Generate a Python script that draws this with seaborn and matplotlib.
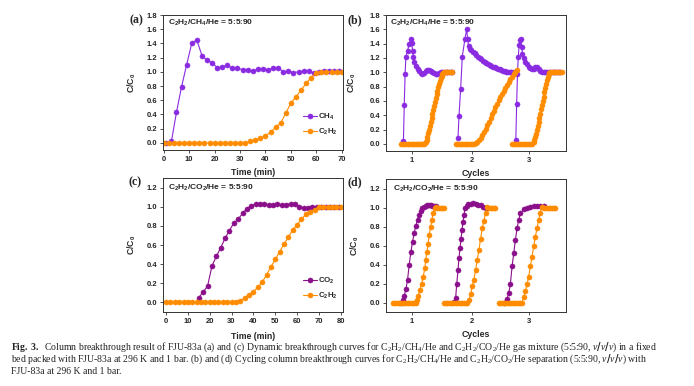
import matplotlib
matplotlib.use("Agg")
import matplotlib.pyplot as plt
from matplotlib.ticker import FormatStrFormatter
import pandas as pd
import seaborn as sns

# ---------------- data ----------------
# (a) C2H2/CH4/He = 5:5:90 breakthrough, time in min
a_ch4_time = [1, 3, 5, 7, 9, 11, 13, 15, 17, 19, 21, 23, 25, 27, 29, 31, 33, 35,
              37, 39, 41, 43, 45, 47, 49, 51, 53, 55, 57, 59, 61, 63, 65, 67, 69]
a_ch4 = [0.00, 0.02, 0.43, 0.79, 1.10, 1.40, 1.45, 1.23, 1.16, 1.13, 1.06, 1.07,
         1.09, 1.05, 1.05, 1.03, 1.03, 1.01, 1.04, 1.04, 1.03, 1.05, 1.06, 1.00,
         1.01, 0.99, 1.00, 1.01, 1.01, 0.98, 1.00, 1.01, 1.01, 1.01, 1.01]
a_c2h2_time = [0, 2, 4, 6, 8, 10, 12, 14, 16, 18, 20, 22, 24, 26, 28, 30, 32, 34,
               36, 38, 40, 42, 44, 46, 48, 50, 52, 54, 56, 58, 60, 62, 64, 66, 68, 70]
a_c2h2 = [0, 0, 0, 0, 0, 0, 0, 0, 0, 0, 0, 0, 0, 0, 0, 0, 0.005, 0.02,
          0.04, 0.07, 0.10, 0.15, 0.22, 0.28, 0.42, 0.56, 0.65, 0.74, 0.84, 0.92,
          0.99, 1.00, 1.00, 1.00, 1.00, 1.00]

# (b) cycling, C2H2/CH4/He (three cycles, run time in min)
b_ch4_time = [
    [20, 21, 22, 23, 24, 26, 28, 30, 31, 32, 33, 34, 36, 38, 40, 42, 44, 46, 48,
     50, 52, 54, 56, 58, 60, 62, 64, 66, 68, 70, 72, 74, 76, 78, 80],
    [86.8, 88, 90, 92, 95.2, 97.2, 98.4, 99.6, 101, 103, 105, 107, 109, 111, 113,
     115, 117, 119, 121, 123, 125, 127, 129, 131, 133, 135, 137, 139, 141, 143,
     145, 147, 149, 151, 153, 155],
    [156.5, 157.5, 158.5, 159.5, 160.5, 161.5, 162.5, 163.5, 164.5, 166, 168, 170,
     172, 174, 176, 178, 180, 182, 184, 186, 188, 190, 192, 194, 196, 198, 200,
     202, 204, 206, 208, 210],
]
b_ch4 = [
    [0.02, 0.04, 0.54, 0.97, 1.22, 1.30, 1.40, 1.47, 1.41, 1.30, 1.21, 1.15, 1.09,
     1.05, 1.02, 0.99, 0.97, 0.99, 1.02, 1.03, 1.03, 1.02, 1.00, 0.99, 0.97, 0.98,
     0.99, 1.00, 1.00, 1.00, 1.00, 1.00, 1.00, 1.00, 1.00],
    [0.08, 0.39, 0.77, 1.22, 1.47, 1.60, 1.47, 1.36, 1.33, 1.31, 1.29, 1.27, 1.24,
     1.22, 1.20, 1.18, 1.16, 1.15, 1.13, 1.12, 1.10, 1.09, 1.08, 1.07, 1.06, 1.05,
     1.04, 1.03, 1.02, 1.02, 1.01, 1.01, 1.00, 1.00, 1.00, 1.00],
    [0.05, 0.55, 0.98, 1.22, 1.38, 1.45, 1.47, 1.35, 1.26, 1.20, 1.15, 1.11, 1.08,
     1.06, 1.05, 1.05, 1.07, 1.08, 1.04, 1.02, 1.01, 1.00, 1.00, 1.00, 1.00, 1.00,
     1.00, 1.00, 1.00, 1.00, 1.00, 1.00],
]
b_c2h2_time = [
    [18, 20, 22, 24, 26, 28, 30, 32, 34, 36, 38, 40, 42, 44, 46, 47, 48, 49, 50,
     51, 52, 53, 54, 55, 56, 57, 58, 59, 60, 61, 62, 63, 64, 65, 66, 67, 68, 69,
     70, 72, 74, 76, 78, 80],
    [84, 86, 88, 90, 92, 94, 96, 98, 100, 102, 104, 106, 108, 110, 112, 114, 116,
     118, 120, 122, 124, 126, 128, 130, 132, 134, 136, 138, 140, 142, 144, 146,
     148, 150, 152, 154, 156, 158],
    [152, 154, 156, 158, 160, 162, 164, 166, 168, 170, 172, 174, 176, 178, 179,
     180, 181, 182, 183, 184, 185, 186, 187, 188, 189, 190, 191, 192, 193, 194,
     195, 196, 197, 198, 200, 202, 204, 206, 208, 210, 212],
]
b_c2h2 = [
    [0, 0, 0, 0, 0, 0, 0, 0, 0, 0, 0, 0, 0, 0, 0.0, 0.01, 0.03, 0.06, 0.10, 0.15,
     0.20, 0.25, 0.31, 0.36, 0.42, 0.47, 0.53, 0.58, 0.64, 0.69, 0.74, 0.79, 0.84,
     0.88, 0.92, 0.95, 0.98, 0.99, 1.00, 1.00, 1.00, 1.00, 1.00, 1.00],
    [0, 0, 0, 0, 0, 0, 0, 0, 0, 0, 0, 0, 0.01, 0.03, 0.05, 0.08, 0.12, 0.16, 0.21,
     0.26, 0.31, 0.36, 0.41, 0.46, 0.51, 0.56, 0.61, 0.65, 0.70, 0.74, 0.78, 0.82,
     0.86, 0.90, 0.94, 0.97, 1.00, 1.03],
    [0, 0, 0, 0, 0, 0, 0, 0, 0, 0, 0, 0, 0, 0.02, 0.05, 0.09, 0.14, 0.19, 0.25,
     0.30, 0.36, 0.42, 0.48, 0.54, 0.60, 0.66, 0.72, 0.78, 0.84, 0.89, 0.94, 0.97,
     0.99, 1.00, 1.00, 1.00, 1.00, 1.00, 1.00, 1.00, 1.00],
]

# (c) C2H2/CO2/He = 5:5:90 breakthrough, time in min
c_co2_time = [15, 17, 19, 21, 23, 25, 27, 29, 31, 33, 35, 37, 39, 41, 43, 45, 47,
              49, 51, 53, 55, 57, 59, 61, 63, 65, 67, 69, 71, 73, 75, 77, 79]
c_co2 = [0.05, 0.11, 0.17, 0.38, 0.48, 0.57, 0.67, 0.75, 0.83, 0.87, 0.93, 0.98,
         1.01, 1.03, 1.03, 1.03, 1.02, 1.02, 1.03, 1.02, 1.02, 1.03, 1.03, 1.00,
         0.99, 0.99, 1.00, 1.00, 1.00, 1.00, 1.00, 1.00, 1.00]
c_c2h2_time = [0, 2, 4, 6, 8, 10, 12, 14, 16, 18, 20, 22, 24, 26, 28, 30, 32, 34,
               36, 38, 40, 42, 44, 46, 48, 50, 52, 54, 56, 58, 60, 62, 64, 66, 68,
               70, 72, 74, 76, 78, 80]
c_c2h2 = [0, 0, 0, 0, 0, 0, 0, 0, 0, 0, 0, 0, 0, 0, 0, 0, 0, 0.02, 0.05, 0.08,
          0.11, 0.16, 0.21, 0.29, 0.37, 0.45, 0.53, 0.61, 0.68, 0.76, 0.81, 0.87,
          0.92, 0.95, 0.97, 1.00, 1.00, 1.00, 1.00, 1.00, 1.00]

# (d) cycling, C2H2/CO2/He
d_co2_time = [
    [18, 20, 22, 24, 26, 28, 30, 32, 34, 36, 38, 40, 42, 44, 46, 48, 50, 52, 54,
     56, 58, 60],
    [82, 84, 85.2, 86.8, 88, 89.2, 90.4, 91.6, 92.8, 94, 95.2, 97.2, 99.2, 102,
     104.8, 108, 110.8, 114, 117.2, 120, 122],
    [142, 146, 148, 150, 152, 154, 156, 158, 160, 162, 166, 170, 174, 178, 182,
     186, 190],
]
d_co2 = [
    [0.00, 0.03, 0.07, 0.14, 0.24, 0.40, 0.53, 0.64, 0.73, 0.81, 0.87, 0.92, 0.96,
     0.99, 1.01, 1.02, 1.03, 1.03, 1.03, 1.02, 1.02, 1.02],
    [0.01, 0.05, 0.19, 0.34, 0.47, 0.57, 0.67, 0.76, 0.85, 0.92, 0.99, 1.02, 1.04,
     1.04, 1.05, 1.04, 1.03, 1.03, 1.01, 1.00, 1.00],
    [0.00, 0.04, 0.10, 0.20, 0.38, 0.52, 0.66, 0.78, 0.87, 0.94, 0.98, 1.00, 1.01,
     1.02, 1.02, 1.02, 1.02],
]
d_c2h2_time = [
    [8, 10, 12, 14, 16, 18, 20, 22, 24, 26, 28, 30, 32, 34, 36, 37.2, 38.8, 40.8,
     42.8, 44.8, 46.8, 48, 49.2, 50.8, 52, 54, 55.2, 56.8, 58.8, 60, 62, 64, 66,
     68, 70],
    [70, 72, 74, 76, 78, 80, 82, 84, 86, 88, 90, 92, 94, 96, 98, 100, 102, 104,
     106, 108, 110, 112, 114, 116, 118, 120, 122, 124, 126, 128, 130, 132],
    [136, 138, 140, 142, 144, 146, 148, 150, 152, 154, 156, 158, 160, 162, 164,
     166, 168, 170, 172, 174, 176, 178, 180, 182, 184, 186, 188, 190, 192, 194,
     196, 198, 200, 202, 204],
]
d_c2h2 = [
    [0, 0, 0, 0, 0, 0, 0, 0, 0, 0, 0, 0, 0, 0, 0, 0.03, 0.07, 0.13, 0.19, 0.27,
     0.36, 0.45, 0.53, 0.62, 0.71, 0.80, 0.87, 0.94, 0.99, 1.01, 1.00, 1.00, 1.00,
     1.00, 1.00],
    [0, 0, 0, 0, 0, 0, 0, 0, 0, 0, 0, 0, 0, 0, 0, 0.03, 0.09, 0.17, 0.24, 0.34,
     0.45, 0.55, 0.67, 0.78, 0.86, 0.94, 1.01, 1.00, 1.00, 1.00, 1.00, 1.00],
    [0, 0, 0, 0, 0, 0, 0, 0, 0, 0, 0, 0, 0, 0, 0, 0.06, 0.12, 0.19, 0.27, 0.38,
     0.48, 0.59, 0.69, 0.78, 0.87, 0.94, 1.01, 1.00, 1.00, 1.00, 1.00, 1.00, 1.00,
     1.00, 1.00],
]

cycle_ticks = [31, 104, 172]
cycle_labels = ["1", "2", "3"]

# ---------------- style ----------------
sns.set_theme(style="ticks")
plt.rcParams["font.family"] = ["Liberation Sans", "DejaVu Sans"]
plt.rcParams["font.weight"] = "bold"
plt.rcParams["mathtext.fontset"] = "custom"
plt.rcParams["mathtext.it"] = "Liberation Serif:style=italic:weight=normal"
plt.rcParams["mathtext.bf"] = "Liberation Serif:weight=bold"

PURPLE = "#8a2be2"
MAGENTA = "#8b0f8b"
ORANGE = "#ff8c00"


def single_frame(t1, v1, g1, t2, v2, g2):
    return pd.concat([pd.DataFrame({"time": t1, "value": v1, "gas": g1, "cycle": 1}),
                      pd.DataFrame({"time": t2, "value": v2, "gas": g2, "cycle": 1})])


def cycles_frame(times, values, gas):
    parts = [pd.DataFrame({"time": t, "value": v, "gas": gas, "cycle": k})
             for k, (t, v) in enumerate(zip(times, values), start=1)]
    return pd.concat(parts)


def draw(ax, df, order, colors, legend=False):
    sns.lineplot(data=df, x="time", y="value", hue="gas", hue_order=order,
                 palette=colors, units="cycle", estimator=None, sort=False,
                 marker="o", markersize=3.7, markeredgewidth=0.3,
                 markeredgecolor=None, linewidth=0.8, ax=ax, legend=legend)


def style(ax, xlim, ylim, yticks, xlab, xlab_y, ylab_x):
    ax.set_xlim(*xlim)
    ax.set_ylim(*ylim)
    ax.set_yticks(yticks)
    ax.yaxis.set_major_formatter(FormatStrFormatter("%.1f"))
    ax.tick_params(axis="both", direction="out", length=2.5, width=0.6,
                   labelsize=5.5, pad=1.5, color="#333333")
    for sp in ax.spines.values():
        sp.set_linewidth(0.7)
        sp.set_color("#333333")
    ax.set_xlabel(xlab, fontsize=6.3, fontweight="bold")
    ax.set_ylabel(r"$\mathregular{C/C_0}$", fontsize=6.3, fontweight="bold")
    ax.xaxis.set_label_coords(0.5, xlab_y)
    ax.yaxis.set_label_coords(ylab_x, 0.5)


fig = plt.figure(figsize=(6.94, 3.86), dpi=100)
W, H = 694, 386
ax_a = fig.add_axes([163 / W, 1 - 150 / H, 180 / W, 135 / H])
ax_b = fig.add_axes([386 / W, 1 - 151 / H, 180 / W, 136 / H])
ax_c = fig.add_axes([163 / W, 1 - 312 / H, 180 / W, 134 / H])
ax_d = fig.add_axes([386 / W, 1 - 312 / H, 180 / W, 133 / H])

# (a)
df_a = single_frame(a_ch4_time, a_ch4, "CH4", a_c2h2_time, a_c2h2, "C2H2")
draw(ax_a, df_a, ["CH4", "C2H2"], [PURPLE, ORANGE], legend=True)
style(ax_a, (-0.3, 70.5), (-0.1, 1.8), [0, 0.2, 0.4, 0.6, 0.8, 1.0, 1.2, 1.4, 1.6, 1.8],
      "Time (min)", -0.13, -0.138)
ax_a.set_xticks([0, 10, 20, 30, 40, 50, 60, 70])
h, _ = ax_a.get_legend_handles_labels()
ax_a.legend(h, [r"$\mathregular{CH_4}$", r"$\mathregular{C_2H_2}$"], loc="lower right",
            bbox_to_anchor=(0.99, 0.07), frameon=False, fontsize=5.7,
            handlelength=1.7, handletextpad=0.2, labelspacing=0.6, borderaxespad=0)
ax_a.text(0.03, 0.94, r"$\mathregular{C_2H_2/CH_4/He}$ = 5:5:90", transform=ax_a.transAxes,
          fontsize=6.0, fontweight="bold", va="center", ha="left")

# (b)
df_b = pd.concat([cycles_frame(b_ch4_time, b_ch4, "CH4"),
                  cycles_frame(b_c2h2_time, b_c2h2, "C2H2")])
draw(ax_b, df_b, ["CH4", "C2H2"], [PURPLE, ORANGE])
style(ax_b, (0, 217), (-0.1, 1.8), [0, 0.2, 0.4, 0.6, 0.8, 1.0, 1.2, 1.4, 1.6, 1.8],
      "Cycles", -0.13, -0.155)
ax_b.set_xticks(cycle_ticks)
ax_b.set_xticklabels(cycle_labels)
ax_b.text(0.02, 0.94, r"$\mathregular{C_2H_2/CH_4/He}$ = 5:5:90", transform=ax_b.transAxes,
          fontsize=6.0, fontweight="bold", va="center", ha="left")

# (c)
df_c = single_frame(c_co2_time, c_co2, "CO2", c_c2h2_time, c_c2h2, "C2H2")
draw(ax_c, df_c, ["CO2", "C2H2"], [MAGENTA, ORANGE], legend=True)
style(ax_c, (-1.4, 81), (-0.1, 1.3), [0, 0.2, 0.4, 0.6, 0.8, 1.0, 1.2],
      "Time (min)", -0.148, -0.138)
ax_c.set_xticks([0, 10, 20, 30, 40, 50, 60, 70, 80])
h, _ = ax_c.get_legend_handles_labels()
ax_c.legend(h, [r"$\mathregular{CO_2}$", r"$\mathregular{C_2H_2}$"], loc="lower right",
            bbox_to_anchor=(0.99, 0.06), frameon=False, fontsize=5.7,
            handlelength=1.7, handletextpad=0.2, labelspacing=0.6, borderaxespad=0)
ax_c.text(0.03, 0.925, r"$\mathregular{C_2H_2/CO_2/He}$ = 5:5:90", transform=ax_c.transAxes,
          fontsize=6.0, fontweight="bold", va="center", ha="left")

# (d)
df_d = pd.concat([cycles_frame(d_co2_time, d_co2, "CO2"),
                  cycles_frame(d_c2h2_time, d_c2h2, "C2H2")])
draw(ax_d, df_d, ["CO2", "C2H2"], [MAGENTA, ORANGE])
style(ax_d, (0, 217), (-0.1, 1.3), [0, 0.2, 0.4, 0.6, 0.8, 1.0, 1.2],
      "Cycles", -0.134, -0.14)
ax_d.set_xticks(cycle_ticks)
ax_d.set_xticklabels(cycle_labels)
ax_d.text(0.04, 0.925, r"$\mathregular{C_2H_2/CO_2/He}$ = 5:5:90", transform=ax_d.transAxes,
          fontsize=6.0, fontweight="bold", va="center", ha="left")

# panel letters
for lab, (px, py) in {"(a)": (136, 20), "(b)": (355, 20),
                      "(c)": (135, 182), "(d)": (355, 182)}.items():
    fig.text(px / W, 1 - py / H, lab, family="Liberation Serif", fontweight="bold",
             fontsize=8.5, ha="center", va="center")

# caption
cap = [
    r"$\mathbf{Fig.\ 3.}$  Column breakthrough result of FJU-83a (a) and (c) Dynamic breakthrough "
    r"curves for $\mathregular{C_2H_2/CH_4/He}$ and $\mathregular{C_2H_2/CO_2/He}$ gas mixture "
    r"(5:5:90, $\mathit{v/v/v}$) in a fixed",
    r"bed packed with FJU-83a at 296 K and 1 bar. (b) and (d) Cycling column breakthrough curves "
    r"for $\mathregular{C_2H_2/CH_4/He}$ and $\mathregular{C_2H_2/CO_2/He}$ separation "
    r"(5:5:90, $\mathit{v/v/v}$) with",
    r"FJU-83a at 296 K and 1 bar.",
]
for line, py in zip(cap, [347, 359, 371]):
    fig.text(11 / W, 1 - py / H, line, family="Liberation Serif", fontweight="normal",
             fontsize=7.0, ha="left", va="center", color="#222222")

fig.savefig("out.png", dpi=100)
